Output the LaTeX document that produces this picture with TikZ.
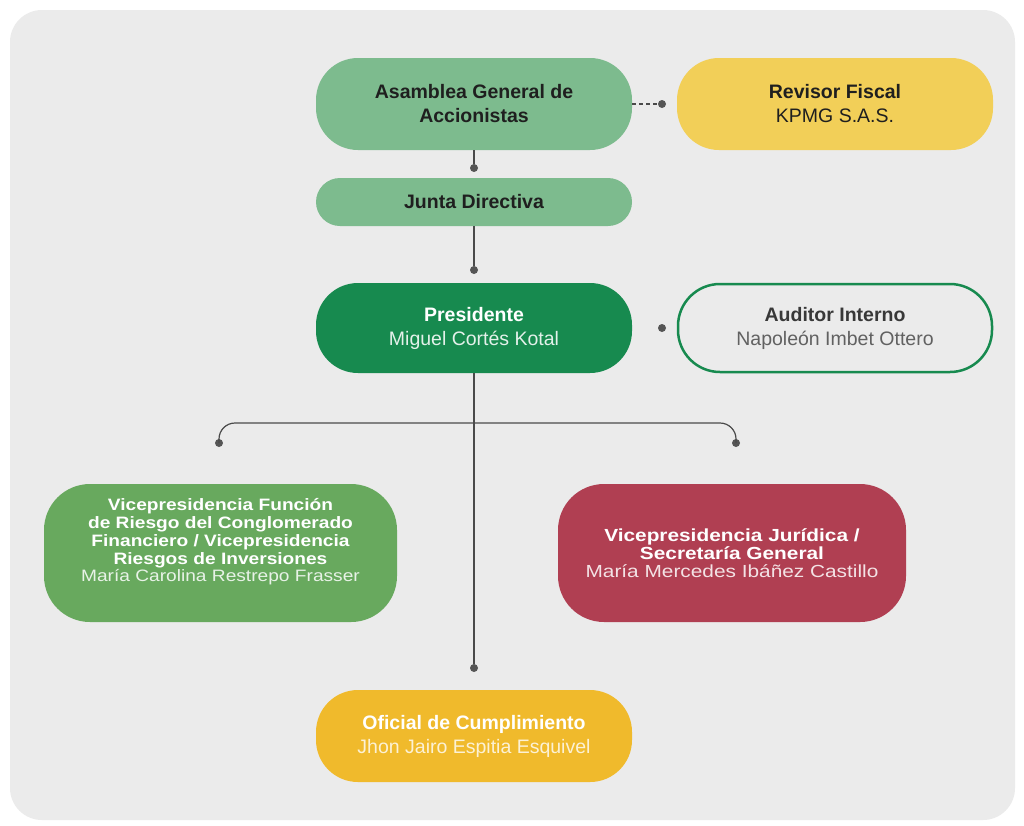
\documentclass[tikz,border=0pt]{standalone}
\usepackage{fontspec}
\setmainfont{Liberation Sans}
\newfontfamily\vpfont{Liberation Sans}[FakeStretch=1.16]
\newfontfamily\vjfont{Liberation Sans}[FakeStretch=1.19]
\usetikzlibrary{positioning}
\definecolor{bgc}{HTML}{EBEBEB}
\definecolor{lgreen}{HTML}{7DBB8E}
\definecolor{dgreen}{HTML}{178A4F}
\definecolor{mgreen}{HTML}{68A95E}
\definecolor{ryellow}{HTML}{F2CF58}
\definecolor{oyellow}{HTML}{F0BA2C}
\definecolor{crimson}{HTML}{B03F52}
\definecolor{dotc}{HTML}{555555}
\definecolor{linec}{HTML}{4A4A4A}
\tikzset{
  pill/.style={rounded corners=42pt, draw=none, align=center, inner sep=0pt,
    font=\fontsize{19.5}{24}\selectfont},
  dotn/.style={circle, fill=dotc, inner sep=0pt, minimum size=8pt},
  conn/.style={draw=linec, line width=1.2pt},
  vptext/.style={align=center, inner sep=0pt, text=white},
}
\begin{document}
\begin{tikzpicture}[x=1pt,y=-1pt]
\useasboundingbox (0,0) rectangle (1024,825);
\fill[white] (0,0) rectangle (1024,825);
\fill[bgc, rounded corners=32pt] (10,10) rectangle (1015,820);

% nodes
\node[pill, fill=lgreen, minimum width=316pt, minimum height=92pt, text=black!88] (asam) at (474,104)
  {\bfseries Asamblea General de\\\bfseries Accionistas};
\node[pill, fill=ryellow, minimum width=316pt, minimum height=92pt, text=black!88] (rev) at (835,104)
  {\bfseries Revisor Fiscal\\KPMG S.A.S.};
\node[pill, rounded corners=24pt, fill=lgreen, minimum width=316pt, minimum height=48pt, text=black!88] (junta) at (474,202)
  {\bfseries Junta Directiva};
\node[pill, fill=dgreen, minimum width=316pt, minimum height=90pt, text=white] (pres) at (474,328)
  {\bfseries Presidente\\\color{white!88!dgreen}Miguel Cortés Kotal};
\node[pill, fill=bgc, draw=dgreen, line width=2.5pt, minimum width=314pt, minimum height=88pt, text=black!78] (aud) at (835,328)
  {\bfseries Auditor Interno\\\color{black!62}Napoleón Imbet Ottero};
\node[pill, rounded corners=46pt, fill=mgreen, minimum width=353pt, minimum height=138pt] (vpr) at (220.5,553) {};
\node[vptext, font=\vpfont\fontsize{16.5}{17.8}\selectfont] (vprt) at (220.5,542)
  {\bfseries Vicepresidencia Función\\\bfseries de Riesgo del Conglomerado\\\bfseries Financiero / Vicepresidencia\\\bfseries Riesgos de Inversiones\\\color{white!85!mgreen}María Carolina Restrepo Frasser};
\node[pill, rounded corners=46pt, fill=crimson, minimum width=348pt, minimum height=138pt, text=white,
  font=\vjfont\fontsize{17.5}{17.8}\selectfont] (vpj) at (732,553)
  {\bfseries Vicepresidencia Jurídica /\\\bfseries Secretaría General\\\color{white!85!crimson}María Mercedes Ibáñez Castillo};
\node[pill, fill=oyellow, minimum width=316pt, minimum height=92pt, text=white] (ofi) at (474,736)
  {\bfseries Oficial de Cumplimiento\\\color{white!80!oyellow}Jhon Jairo Espitia Esquivel};

% dots
\node[dotn] (d1) at (662,104) {};
\node[dotn] (d2) at (474,168) {};
\node[dotn] (d3) at (474,270) {};
\node[dotn] (d4) at (662,328) {};
\node[dotn] (d5) at (219,443) {};
\node[dotn] (d6) at (736,443) {};
\node[dotn] (d7) at (474,668) {};
\coordinate (bl) at (219,423);
\coordinate (br) at (736,423);

% connectors
\draw[conn, dash pattern=on 4pt off 3pt] (asam.east) -- (d1);
\draw[conn] (asam.south) -- (d2);
\draw[conn] (junta.south) -- (d3);
\draw[conn] (pres.south) -- (d7);
\draw[conn, rounded corners=16pt] (d5.center) -- (bl) -- (br) -- (d6.center);
\end{tikzpicture}
\end{document}
